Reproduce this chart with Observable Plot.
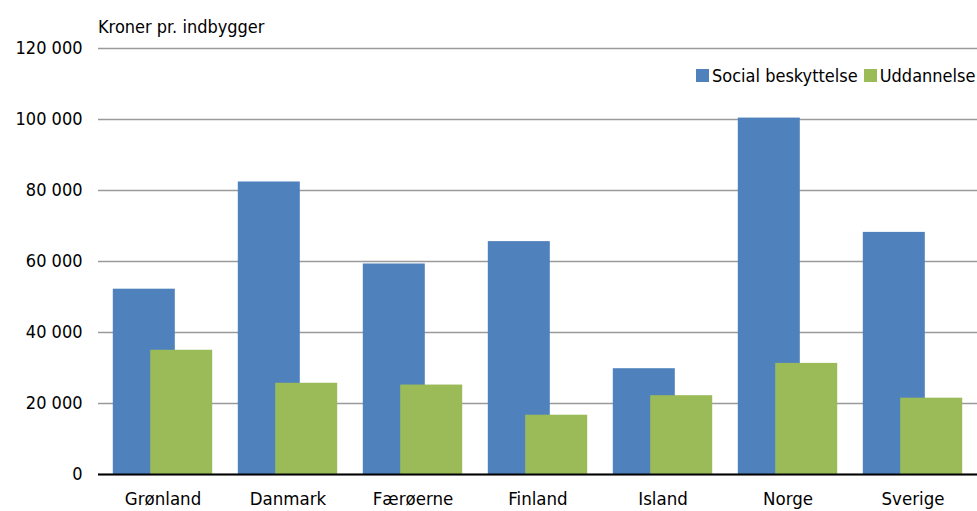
<!DOCTYPE html>
<html><head><meta charset="utf-8">
<script src="https://cdn.jsdelivr.net/npm/d3@7"></script>
<script src="https://cdn.jsdelivr.net/npm/@observablehq/plot@0.6"></script>
<style>
body{margin:0;background:#fff;font-family:"DejaVu Sans Condensed","DejaVu Sans",sans-serif;font-stretch:condensed;color:#000;}
#wrap{position:relative;width:977px;height:511px;overflow:hidden;}
#title{position:absolute;left:98px;top:16px;font-size:18px;line-height:21px;white-space:nowrap;}
#legend{position:absolute;left:696px;top:65px;height:21px;display:flex;align-items:center;font-size:18px;line-height:21px;white-space:nowrap;}
#legend .sw{display:inline-block;width:13px;height:13px;margin-right:3px;}
#legend .item{display:flex;align-items:center;margin-right:6px;}
</style></head><body>
<div id="wrap">
<div id="chart"></div>
<div id="title"></div>
<div id="legend"></div>
</div>
<script>
const countries = ["Grønland","Danmark","Færøerne","Finland","Island","Norge","Sverige"];
const socialBeskyttelse = [52200, 82400, 59300, 65600, 29800, 100400, 68200];
const uddannelse = [35000, 25700, 25200, 16700, 22200, 31300, 21500];
const seriesNames = ["Social beskyttelse", "Uddannelse"];
const seriesColors = ["#4f81bd", "#9bbb59"];
const yTicks = [0, 20000, 40000, 60000, 80000, 100000, 120000];
const yTitle = "Kroner pr. indbygger";

const rowsSocial = countries.map((c, i) => ({country: c, series: seriesNames[0], value: socialBeskyttelse[i]}));
const rowsUdd = countries.map((c, i) => ({country: c, series: seriesNames[1], value: uddannelse[i]}));
const fmt = d => d3.format(",")(d).replace(/,/g, " ");

const chart = Plot.plot({
  width: 977,
  height: 511,
  marginTop: 48,
  marginBottom: 37,
  marginLeft: 98,
  marginRight: 0,
  style: {fontFamily: '"DejaVu Sans Condensed","DejaVu Sans",sans-serif', fontSize: "18px", color: "#000", background: "#fff", fontStretch: "condensed"},
  x: {domain: countries, padding: 0, label: null},
  y: {domain: [0, 120000], label: null},
  color: {domain: seriesNames, range: seriesColors},
  marks: [
    Plot.gridY(yTicks, {stroke: "#9a9a9a", strokeOpacity: 1, strokeWidth: 1.6}),
    Plot.axisY({ticks: yTicks, tickSize: 0, tickPadding: 16, tickFormat: fmt, label: null, fontSize: 18}),
    Plot.axisX({tickSize: 0, tickPadding: 17, label: null, fontSize: 18.5}),
    Plot.barY(rowsSocial, {x: "country", y: "value", fill: "series", insetLeft: 31.5, insetRight: 31.5, dx: -18.7}),
    Plot.barY(rowsUdd, {x: "country", y: "value", fill: "series", insetLeft: 31.5, insetRight: 31.5, dx: 18.7}),
    Plot.ruleY([0], {stroke: "#000", strokeWidth: 2})
  ]
});
document.getElementById("chart").appendChild(chart);
document.getElementById("title").textContent = yTitle;
const leg = document.getElementById("legend");
seriesNames.forEach((s, i) => {
  const item = document.createElement("span");
  item.className = "item";
  const sw = document.createElement("span");
  sw.className = "sw";
  sw.style.background = seriesColors[i];
  item.appendChild(sw);
  item.appendChild(document.createTextNode(s));
  leg.appendChild(item);
});
</script>
</body></html>
